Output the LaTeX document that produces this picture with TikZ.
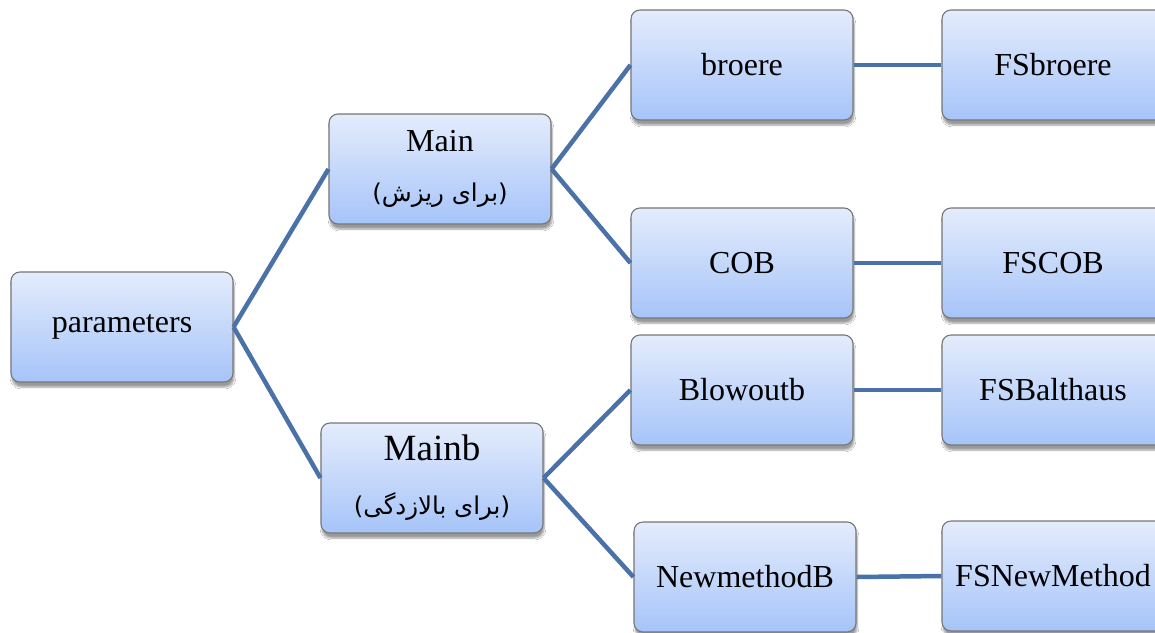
\documentclass[tikz,border=0pt]{standalone}
\usepackage{fontspec}
\setmainfont{Liberation Serif}
\newfontfamily\arabicfont[Script=Arabic]{DejaVu Sans}
\TeXXeTstate=1
\usetikzlibrary{shadows.blur}
\definecolor{boxtop}{RGB}{228,236,252}
\definecolor{boxbot}{RGB}{166,196,249}
\definecolor{boxline}{RGB}{118,118,118}
\definecolor{linkblue}{RGB}{74,114,168}
\tikzset{
  box/.style={rectangle, rounded corners=9pt, draw=boxline, line width=1.1pt,
    top color=boxtop, bottom color=boxbot,
    minimum width=222pt, minimum height=110pt, inner sep=0pt, align=center,
    font=\fontsize{32}{36}\selectfont,
    blur shadow={shadow xshift=1pt, shadow yshift=-5pt, shadow blur steps=6, shadow opacity=40}},
  link/.style={draw=linkblue, line width=4.5pt}
}
\newcommand{\fatext}[1]{{\arabicfont\fontsize{24.5}{28}\selectfont\beginR #1\endR}}
\begin{document}
\begin{tikzpicture}[x=1pt,y=-1pt]
  \fill[white] (0,0) rectangle (1155,632);
  \clip (0,0) rectangle (1155,632);
  % root
  \node[box] (par) at (122,327) {parameters};
  % second level
  \node[box] (main) at (440,169) {Main\\[14pt]\fatext{(برای ریزش)}};
  \node[box, font=\fontsize{37}{40}\selectfont] (mainb) at (432,478) {Mainb\\[14pt]\fatext{(برای بالازدگی)}};
  % third level
  \node[box] (broere) at (742,65) {broere};
  \node[box] (cob) at (742,263) {COB};
  \node[box] (blow) at (742,390) {Blowoutb};
  \node[box] (newm) at (745,577) {NewmethodB};
  % factor of safety boxes
  \node[box] (fsbroere) at (1053,65) {FSbroere};
  \node[box] (fscob) at (1053,263) {FSCOB};
  \node[box] (fsbal) at (1053,390) {FSBalthaus};
  \node[box] (fsnew) at (1053,576) {FSNewMethod};
  % connectors
  \draw[link] (par.east) -- (main.west);
  \draw[link] (par.east) -- (mainb.west);
  \draw[link] (main.east) -- (broere.west);
  \draw[link] (main.east) -- (cob.west);
  \draw[link] (mainb.east) -- (blow.west);
  \draw[link] (mainb.east) -- (newm.west);
  \draw[link] (broere.east) -- (fsbroere.west);
  \draw[link] (cob.east) -- (fscob.west);
  \draw[link] (blow.east) -- (fsbal.west);
  \draw[link] (newm.east) -- (fsnew.west);
\end{tikzpicture}
\end{document}
